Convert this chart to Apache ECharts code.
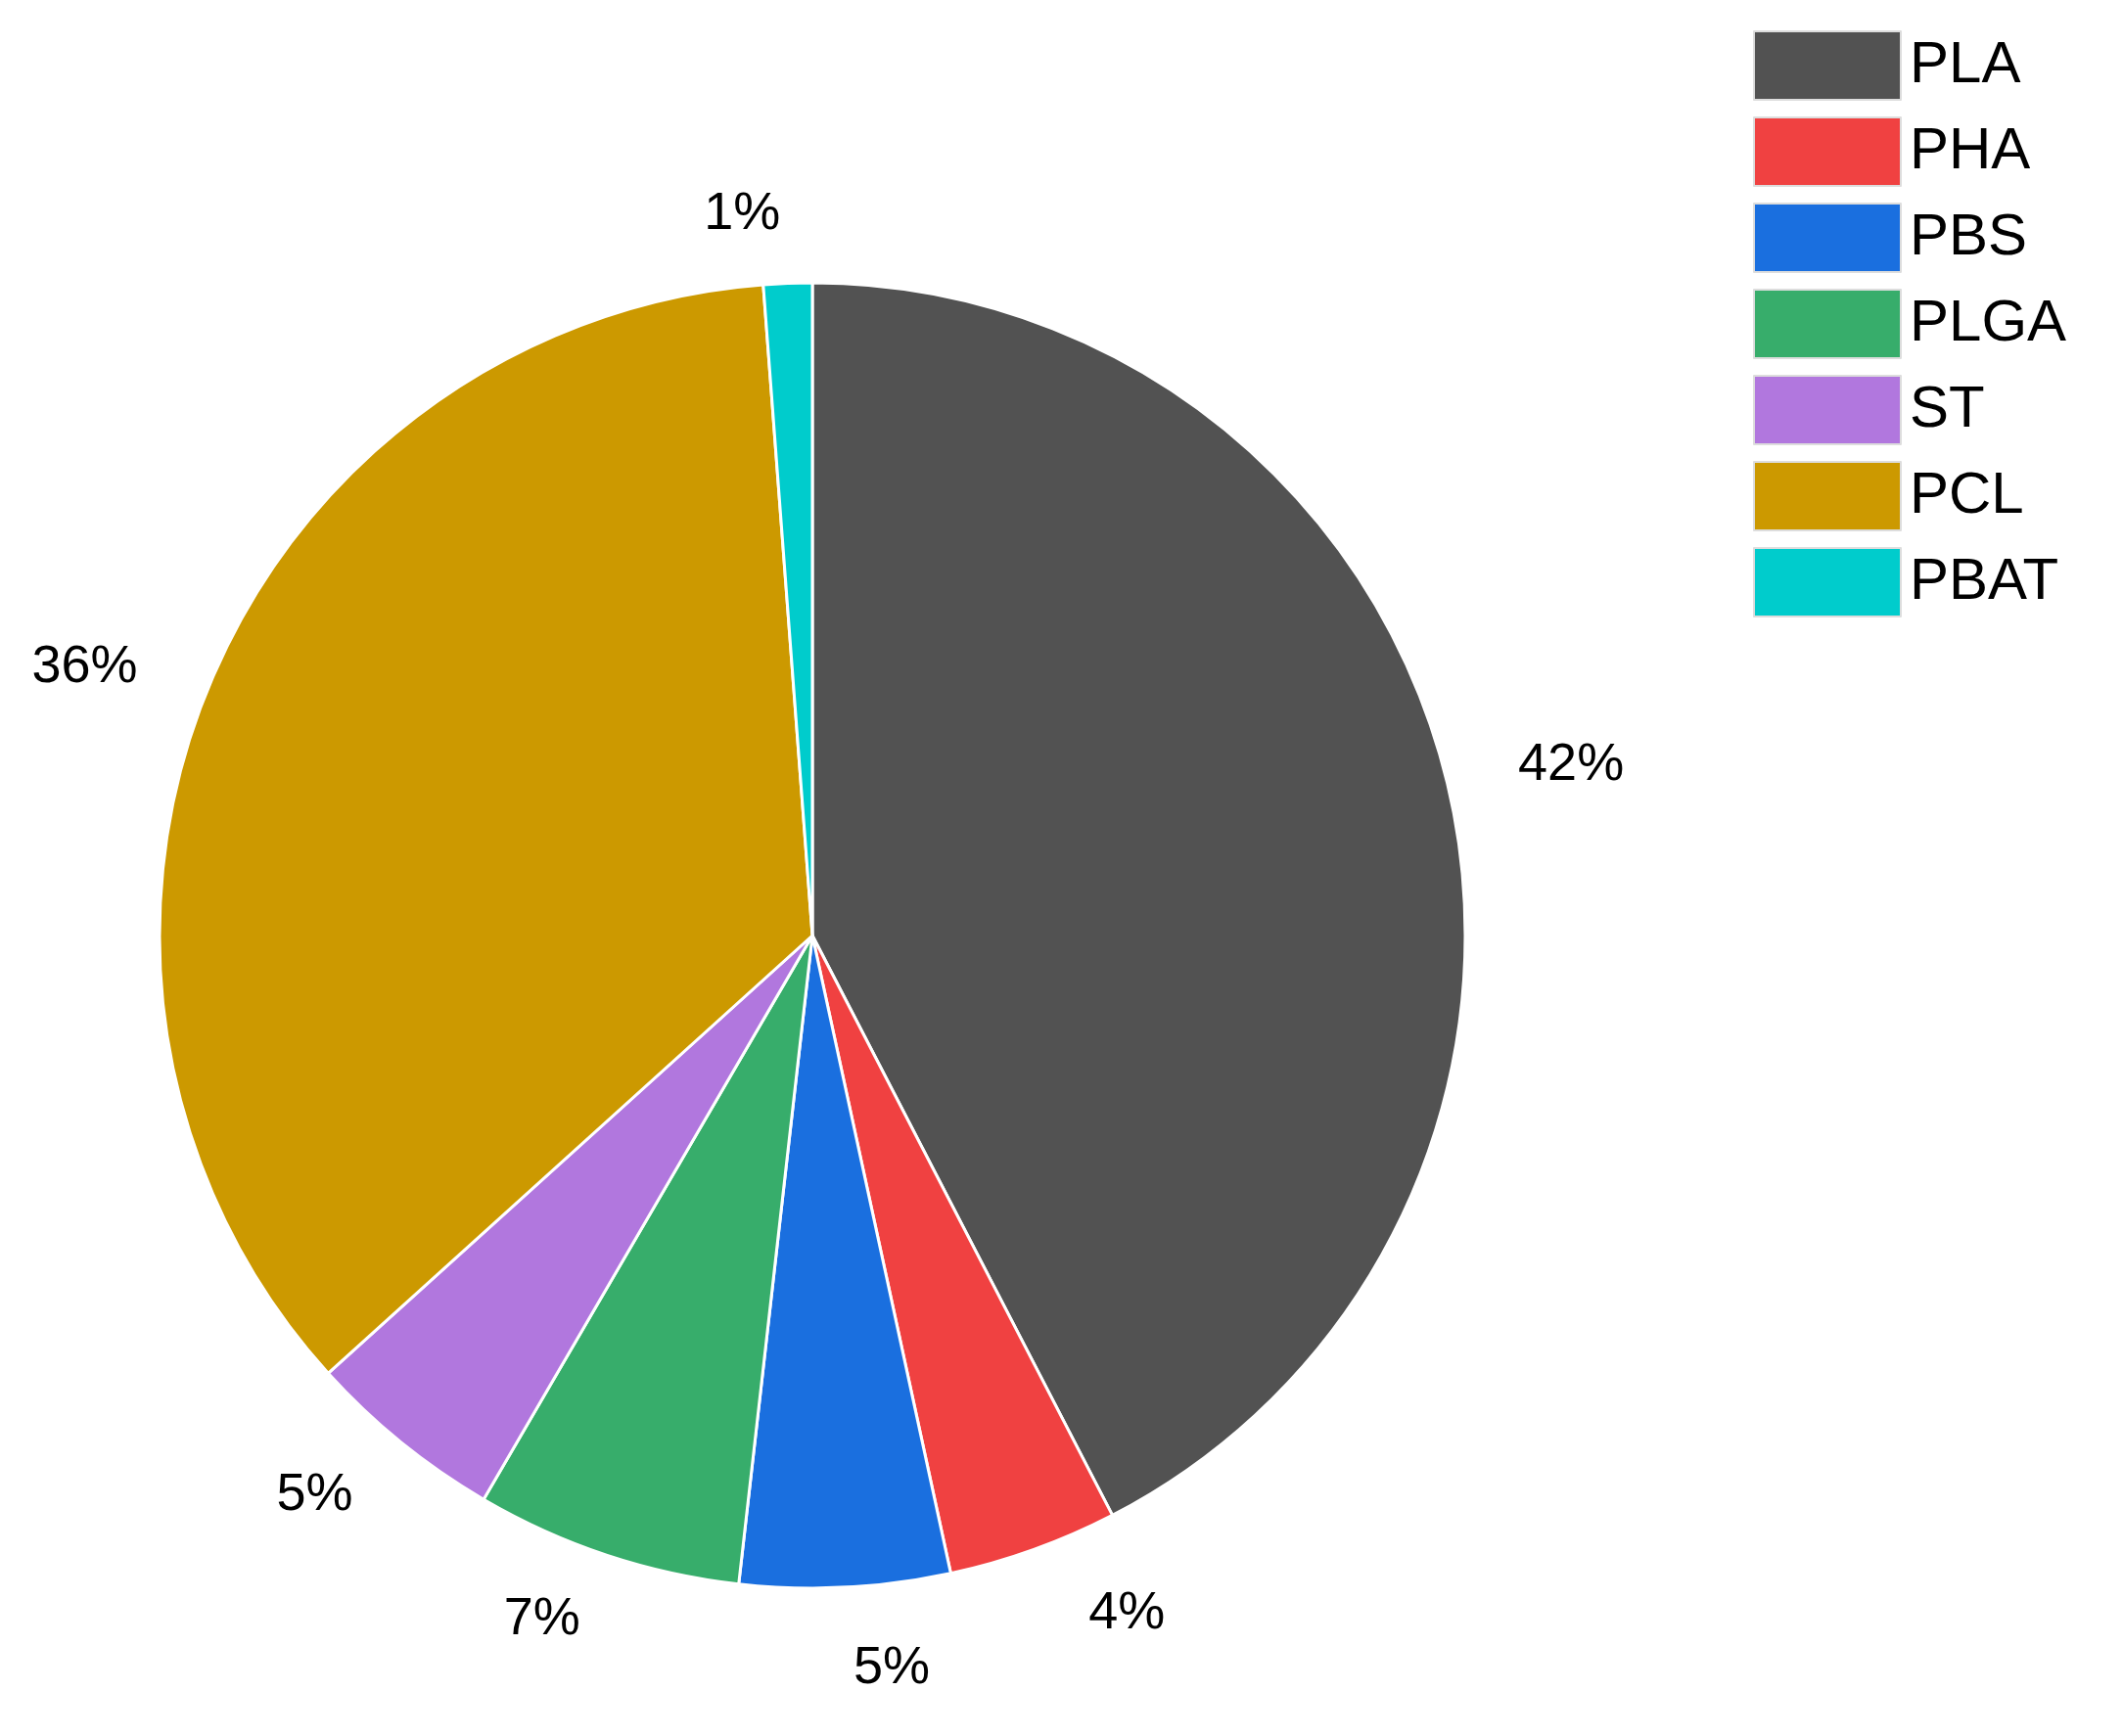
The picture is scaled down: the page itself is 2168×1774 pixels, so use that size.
<!DOCTYPE html>
<html><head><meta charset="utf-8">
<script src="https://cdn.jsdelivr.net/npm/echarts@6/dist/echarts.min.js"></script>
<style>html,body{margin:0;background:#fff}#c{width:2168px;height:1774px}</style>
</head><body><div id="c"></div>
<script>
const categories = ['PLA','PHA','PBS','PLGA','ST','PCL','PBAT'];
const values = [42.4,4.2,5.2,6.6,4.9,35.5,1.2];
const colors = ['#525252','#f04141','#1a6fdf','#37ad6b','#b177de','#cc9900','#00cccc'];
const chart = echarts.init(document.getElementById('c'));
chart.setOption({
  animation:false,
  color: colors,
  legend:{
    orient:'vertical', left:1786, top:26, itemWidth:150, itemHeight:70, itemGap:16,
    icon:'rect',
    itemStyle:{borderColor:'#dddddd',borderWidth:2},
    textStyle:{fontSize:60,fontFamily:'Liberation Sans, Arial',color:'#000',padding:[0,0,0,4]},
    data: categories
  },
  series:[{
    type:'pie', center:[830,956], radius:[0,667], startAngle:90, clockwise:true,
    data: categories.map((n,i)=>({name:n,value:values[i]})),
    itemStyle:{borderColor:'#fff',borderWidth:3},
    label:{show:true,position:'outside',formatter:p=>Math.round(p.percent)+'%',
      fontSize:54,fontFamily:'Liberation Sans, Arial',color:'#000'},
    labelLine:{show:false,length:70,length2:0},
    emphasis:{disabled:true}
  }]
});
</script></body></html>
